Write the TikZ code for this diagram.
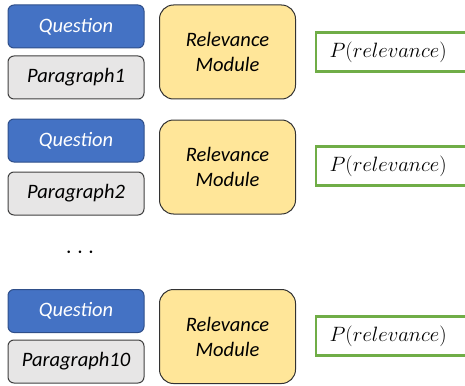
\documentclass[tikz,border=0pt]{standalone}
\usepackage{fontspec}
\setmainfont{Carlito}
\usepackage{tikz}
\usetikzlibrary{positioning}
\usepackage{xcolor}
\definecolor{qblue}{HTML}{4472C4}
\definecolor{qedge}{HTML}{2F4F8A}
\definecolor{pgray}{HTML}{E7E6E6}
\definecolor{ryellow}{HTML}{FFE699}
\definecolor{ogreen}{HTML}{70AD47}

\begin{document}
\begin{tikzpicture}[
  x=1pt, y=-1pt,
  question/.style={fill=qblue, draw=qedge, line width=1pt, rounded corners=6pt,
    minimum width=136pt, minimum height=43pt, inner sep=0pt,
    font=\fontsize{20.5}{25}\selectfont\itshape, text=white},
  paragraph/.style={fill=pgray, draw=black!75, line width=1pt, rounded corners=6pt,
    minimum width=136pt, minimum height=43pt, inner sep=0pt,
    font=\fontsize{20.5}{25}\selectfont\itshape, text=black},
  module/.style={fill=ryellow, draw=black!80, line width=1pt, rounded corners=14pt,
    minimum width=136pt, minimum height=94pt, inner sep=0pt, align=center,
    font=\fontsize{20.5}{25}\selectfont\itshape, text=black},
  output/.style={fill=white, draw=ogreen, line width=2.5pt,
    minimum width=160pt, minimum height=39pt, inner sep=0pt},
  outtext/.style={font=\fontsize{22.5}{25}\selectfont, anchor=west}
]
\useasboundingbox (0,0) rectangle (465,385);

% First paragraph
\node[question] (q1) at (76,26.5) {Question};
\node[paragraph] (p1) at (76,77.5) {Paragraph1};
\node[module] (m1) at (227.5,52) {Relevance\\Module};
\node[output] (o1) at (396,52) {};
\node[outtext] (t1) at (326,52) {$P(relevance)$};

% Second paragraph
\node[question] (q2) at (76,140.5) {Question};
\node[paragraph] (p2) at (76,193.5) {Paragraph2};
\node[module] (m2) at (227.5,167) {Relevance\\Module};
\node[output] (o2) at (396,166) {};
\node[outtext] (t2) at (326,166) {$P(relevance)$};

% Gap
\node[font=\fontsize{24}{24}\selectfont, inner sep=0pt] (dots) at (80,253) {$\cdots$};

% Last paragraph
\node[question] (q3) at (76,311) {Question};
\node[paragraph] (p3) at (76,361.5) {Paragraph10};
\node[module] (m3) at (227.5,336.5) {Relevance\\Module};
\node[output] (o3) at (396,336) {};
\node[outtext] (t3) at (326,336) {$P(relevance)$};

\end{tikzpicture}
\end{document}
